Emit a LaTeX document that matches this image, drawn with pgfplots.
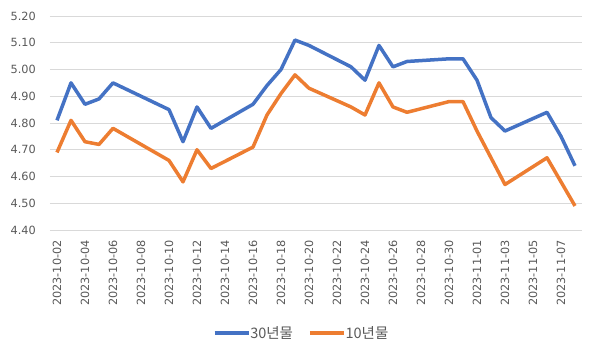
\documentclass[border=0pt]{standalone}
\usepackage{pgfplots}
\pgfplotsset{compat=1.18}
\usepackage{pgfplotstable}
\usepackage{fontspec}
\setmainfont{DejaVu Sans}
\newfontfamily\kr{Noto Sans CJK KR}
\definecolor{cblue}{HTML}{4472C4}
\definecolor{corange}{HTML}{ED7D31}
\definecolor{cgrid}{HTML}{D9D9D9}
\definecolor{ctext}{HTML}{595959}
\pgfplotstableread{
day y30 y10
0 4.81 4.69
1 4.95 4.81
2 4.87 4.73
3 4.89 4.72
4 4.95 4.78
8 4.85 4.66
9 4.73 4.58
10 4.86 4.70
11 4.78 4.63
14 4.87 4.71
15 4.94 4.83
16 5.00 4.91
17 5.11 4.98
18 5.09 4.93
21 5.01 4.86
22 4.96 4.83
23 5.09 4.95
24 5.01 4.86
25 5.03 4.84
28 5.04 4.88
29 5.04 4.88
30 4.96 4.77
31 4.82 4.67
32 4.77 4.57
35 4.84 4.67
36 4.75 4.58
37 4.64 4.49
}\datatable
\begin{document}
\begin{tikzpicture}
\path[use as bounding box] (0pt,0pt) rectangle (598pt,-358pt);
\begin{axis}[
  at={(50pt,-230pt)}, anchor=south west,
  scale only axis, width=532pt, height=214pt,
  xmin=-0.5, xmax=37.5, ymin=4.4, ymax=5.2,
  axis x line*=bottom, axis y line*=left,
  x axis line style={draw=cgrid, line width=0.8pt},
  y axis line style={draw=none},
  ytick={4.4,4.5,...,5.21},
  ymajorgrids, grid style={cgrid, line width=0.8pt},
  major y tick style={draw=none},
  yticklabel style={/pgf/number format/fixed, /pgf/number format/fixed zerofill, /pgf/number format/precision=2, font=\fontsize{11.3}{12}\selectfont, text=ctext, anchor=east, inner sep=0pt, xshift=-14pt},
  /pgf/number format/assume math mode=true,
  xtick={0,2,...,36},
  xticklabels={2023-10-02,2023-10-04,2023-10-06,2023-10-08,2023-10-10,2023-10-12,2023-10-14,2023-10-16,2023-10-18,2023-10-20,2023-10-22,2023-10-24,2023-10-26,2023-10-28,2023-10-30,2023-11-01,2023-11-03,2023-11-05,2023-11-07},
  major x tick style={draw=none},
  xticklabel style={rotate=90, anchor=east, inner sep=0pt, font=\fontsize{11.3}{12}\selectfont, text=ctext},
  xticklabel shift=10pt,
  extra x ticks={-0.5,1.5,...,37.6},
  extra x tick labels={},
  extra x tick style={major tick length=5pt, tick align=outside, tick style={draw=cgrid, line width=0.8pt}, grid=none},
  legend columns=2,
  legend style={draw=none, fill=none, at={(0.471,-0.481)}, anchor=center, font=\kr\fontsize{14.5}{15}\selectfont, text=ctext, inner sep=0pt, nodes={inner sep=0pt}, /tikz/every odd column/.style={column sep=0pt}, /tikz/every even column/.style={column sep=15pt}},
  legend image code/.code={\draw[#1, line width=3.5pt] (0pt,0pt) -- (34pt,0pt);},
  legend cell align=left,
  clip=false,
]
\addplot[cblue, line width=3.5pt, line join=round] table[x=day, y=y30] {\datatable};
\addlegendentry{30년물}
\addplot[corange, line width=3.5pt, line join=round] table[x=day, y=y10] {\datatable};
\addlegendentry{10년물}
\end{axis}
\end{tikzpicture}
\end{document}
